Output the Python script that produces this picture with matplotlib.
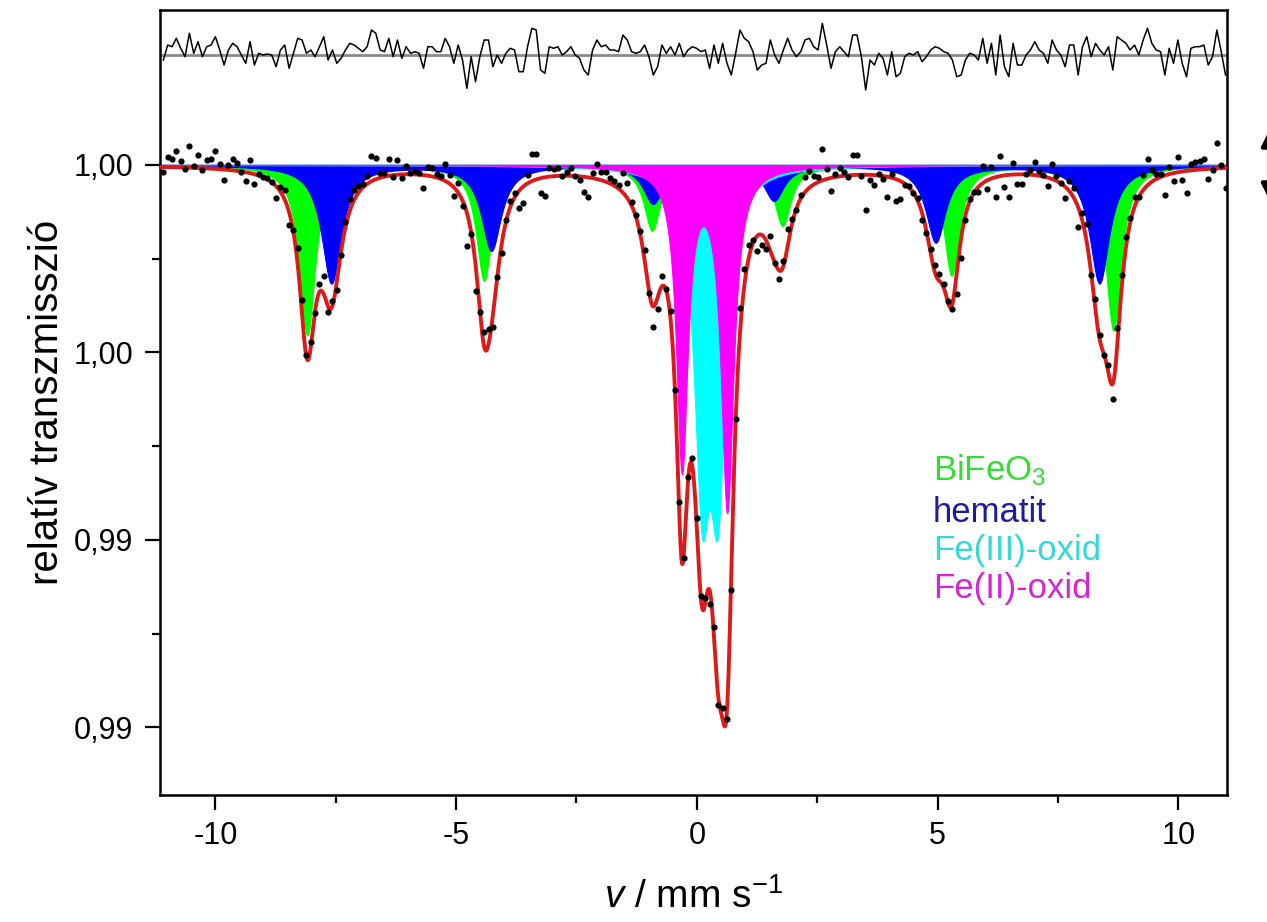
import numpy as np
import matplotlib
matplotlib.use("Agg")
import matplotlib.pyplot as plt

plt.rcParams['font.family'] = ['Liberation Sans', 'DejaVu Sans']
plt.rcParams['mathtext.fontset'] = 'custom'
plt.rcParams['mathtext.rm'] = 'Liberation Sans'
plt.rcParams['mathtext.it'] = 'Liberation Sans:italic'
plt.rcParams['axes.unicode_minus'] = False

# line parameters of the fitted subspectra (position mm/s, depth, HWHM mm/s)
hem_pos = [-7.59, -4.27, -0.91, 1.60, 4.96, 8.36]
hem_depth = [0.00315, 0.00227, 0.00101, 0.00093, 0.00205, 0.00315]
hem_width = [0.25, 0.25, 0.25, 0.25, 0.25, 0.25]

bfo_pos = [-8.09, -4.42, -0.93, 1.78, 5.29, 8.65]
bfo_depth = [0.00453, 0.00307, 0.00173, 0.00160, 0.00293, 0.00440]
bfo_width = [0.20, 0.20, 0.21, 0.21, 0.20, 0.20]

fe3_pos = [0.104, 0.436]
fe3_depth = [0.00787, 0.00787]
fe3_width = [0.197, 0.197]

fe2_pos = [-0.31, 0.63]
fe2_depth = [0.0080, 0.0091]
fe2_width = [0.145, 0.16]

# residual (data - fit), in units of 1/37500
resid = [
    -5, 10, 8.3, 16.7, 6.7, -1.7, 21.7, 1.7, 13.3, -1.7, 8.3, 10, 18.3, 5, -10, 5,
    11.7, 8.3, 0, -8.3, 13.3, -10, 1.7, 0, 1, 0, -11.7, 5, 10, -13.3, 1.7, 16.7,
    15, 1.7, 5, -1.7, 8.3, 18.3, -5, 5, -8.3, -3.3, 5, 11.7, 10, 6.7, 3.3, 8.3,
    25, 21.7, 5, 3.3, 16.7, -1.7, 15, -3.3, 8.3, 1.7, 3.3, 1.7, -13.3, 8.3,
    8.3, 3.3, 3.3, 16.7, 8.3, -8.3, 10, -5, -33.3, -1.7, -26.7, -1.7, 15, 15, -11.7, 0,
    -8.3, 1.7, 6.7, 5, -16.7, -16.7, 8.3, 26.7, 25, -15, -18.3, 8.3, 6.7, 8.3, 0, 3.3,
    8.3, 0, -3.3, -15, -20, 5, 15, 8.3, 10, 5, 5, 3.3, 20, 15, 3.3, 1.7,
    3.3, 10, -1.7, -20, -11.7, 10, 1.7, 8.3, 0, 11.7, -1.7, 5,
    8.3, 6.7, 3.3, 5, -13.3, 10, -8.3, 11.7, -8.3, -20, 1.7, 25, 16.7, 13.3, 3.3, -15,
    -10, -8.3, 15, 0, -8.3, 5, 16.7, 5, -1.7, 3.3, 15, 16.7, 8.3, 5, 31.7, 10,
    -13.3, 3.3, 8.3, 3.3, -1.7, 20, 20, -1.7, -35, -5, -10, 1.7, -3.3, -20, 3.3, -21.7,
    -18.3, -1.7, 1.7, 0, 3.3, -6.7, -1.7, 5, 8.3, 6.7, 3.3, 1.7, -5, -21.7, -20, -5, 1.7,
    0, -5, 16.7, -8.3, 11.7, -20, 20, -11.7, -21.7, 11.7, -10, -10, 0, 5, 13.3, 5,
    1.7, -8.3, 15, 5, 0, -11.7, 10, 10, -20, 8.3, 18.3, -1.7, 11.7, 5, 0, 8.3,
    -15, 18.3, 15, 11.7, 5, 10, 0, 15, 26.7, 11.7, 5, 3.3, -20, 6.7, -8.3, 15,
    -8.3, -21.7, 6.7, 8.3, 8.3, 10, -10, -1.7, 25, 3.3, -20,
]
resid_unit = 1 / 37500
resid_level = 1.00293

v_start, v_end = -11.08, 10.98

yticks = [1.000, 0.995, 0.990, 0.985]
ytick_labels = ['1,00', '1,00', '0,99', '0,99']
xticks = [-10, -5, 0, 5, 10]

names = ['BiFeO$_3$', 'hematit', 'Fe(III)-oxid', 'Fe(II)-oxid']
fill_colors = ['#00ff00', '#0000ff', '#00ffff', '#ff00ff']
text_colors = ['#33dd33', '#1c1c9c', '#33d8d8', '#d424d4']


def lorentz(x, pos, depth, width):
    out = np.zeros_like(x)
    for p, d, w in zip(pos, depth, width):
        out += d / (1 + ((x - p) / w) ** 2)
    return out


def components(x):
    return [lorentz(x, bfo_pos, bfo_depth, bfo_width),
            lorentz(x, hem_pos, hem_depth, hem_width),
            lorentz(x, fe3_pos, fe3_depth, fe3_width),
            lorentz(x, fe2_pos, fe2_depth, fe2_width)]


v = np.linspace(v_start, v_end, len(resid))
vf = np.linspace(-11.2, 11.1, 3000)

comps_f = components(vf)
fit_f = 1 - sum(comps_f)
fit_ch = 1 - sum(components(v))
r = np.array(resid) * resid_unit
data = fit_ch + r

fig = plt.figure(figsize=(12.67, 9.22), dpi=100)
ax = fig.add_axes([160 / 1267, 1 - 795 / 922, 1067 / 1267, 785 / 922])

for comp, col in zip(comps_f, fill_colors):
    ax.fill_between(vf, 1, 1 - comp, color=col, lw=0.8, zorder=2)

ax.plot(vf, fit_f, color='#dd1a1a', lw=2.8, zorder=3)
ax.scatter(v, data, s=20, color='black', zorder=4, lw=0)

# residual trace
ax.axhline(resid_level, color='#8a8a8a', lw=2, zorder=2)
ax.plot(v, resid_level + r, color='black', lw=1.1, zorder=3)

ax.set_xlim(-11.15, 11.01)
ax.set_ylim(0.9832, 1.00413)
ax.set_xticks(xticks)
ax.set_xticks([-7.5, -2.5, 2.5, 7.5], minor=True)
ax.set_yticks(yticks)
ax.set_yticklabels(ytick_labels)
ax.set_yticks([0.9975, 0.9925, 0.9875], minor=True)

ax.tick_params(which='major', direction='out', length=11, width=1.6, labelsize=22, pad=8)
ax.tick_params(which='minor', direction='out', length=5.5, width=1.6)
ax.tick_params(top=False, right=False)
for s in ax.spines.values():
    s.set_linewidth(1.8)

ax.set_xlabel('$v$ / mm s$^{-1}$', fontsize=28, labelpad=19)
ax.set_ylabel('relatív transzmisszió', fontsize=29, labelpad=6)

ty = [0.4013, 0.3478, 0.2994, 0.2510]
for name, col, yy in zip(names, text_colors, ty):
    ax.text(0.7245, yy, name, color=col, fontsize=25, transform=ax.transAxes, va='baseline')

# cropped double arrow at the right edge
fig.patches.append(matplotlib.patches.FancyArrowPatch(
    (1269 / 1267, 1 - 128 / 922), (1269 / 1267, 1 - 202 / 922), transform=fig.transFigure,
    arrowstyle='<|-|>', mutation_scale=22, lw=3, color='black'))

fig.savefig('out.png', dpi=100)
